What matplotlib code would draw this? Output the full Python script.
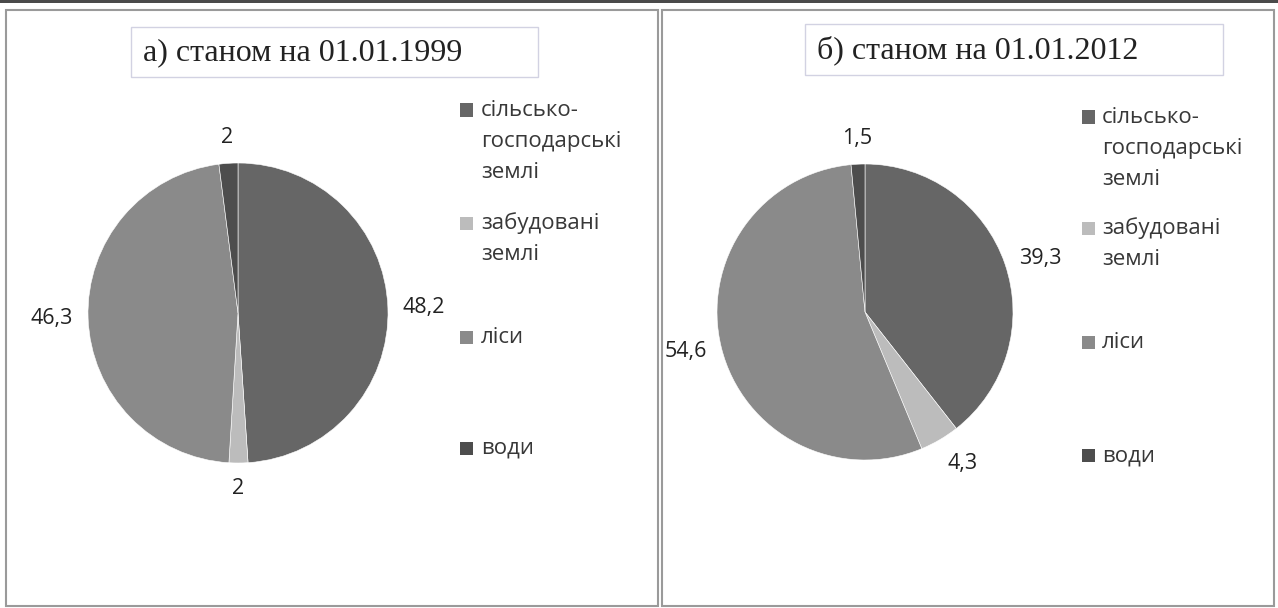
import numpy as np
import matplotlib.pyplot as plt
from matplotlib.patches import Rectangle

# data
categories = ["сільсько-\nгосподарські\nземлі", "забудовані\nземлі", "ліси", "води"]
values_1999 = [48.2, 2, 46.3, 2]
values_2012 = [39.3, 4.3, 54.6, 1.5]
titles = ["а) станом на 01.01.1999", "б) станом на 01.01.2012"]
colors = ['#666666', '#bcbcbc', '#8a8a8a', '#4d4d4d']

W, H = 1278, 608
fig = plt.figure(figsize=(W / 100, H / 100), dpi=100)
fig.patch.set_facecolor('white')

def fx(x):
    return x / W

def fy(y):
    return 1 - y / H

sans = ['Open Sans', 'DejaVu Sans']
serif = ['Liberation Serif', 'DejaVu Serif']

def fmt(v):
    return ('%g' % v).replace('.', ',')

# panel frames
fig.add_artist(Rectangle((0, fy(2.5)), 1, 2.5 / H, transform=fig.transFigure,
                         facecolor='#4a4a4a', edgecolor='none'))
for x0, x1 in [(6, 658), (662, 1274)]:
    fig.add_artist(Rectangle((fx(x0), fy(606)), fx(x1) - fx(x0), fy(10) - fy(606),
                             transform=fig.transFigure, facecolor='none',
                             edgecolor='#9a9a9a', lw=1.5))

panels = [
    dict(vals=values_1999, title=titles[0], cx=238, cy=313, r=150,
         box=(131, 27, 538, 77), tx=143, sq=460, txt=481, ly=[110, 223, 337, 448]),
    dict(vals=values_2012, title=titles[1], cx=865, cy=312, r=148,
         box=(805, 24, 1223, 75), tx=817, sq=1082, txt=1102, ly=[117, 228, 342, 455]),
]

for p in panels:
    cx, cy, r = p['cx'], p['cy'], p['r']
    ax = fig.add_axes([fx(cx - r), fy(cy + r), 2 * r / W, 2 * r / H])
    wedges, _ = ax.pie(p['vals'], colors=colors, startangle=90, counterclock=False,
                       wedgeprops=dict(edgecolor='white', linewidth=0.4))
    ax.set_xlim(-1, 1)
    ax.set_ylim(-1, 1)

    # value labels outside the pie
    for w, v in zip(wedges, p['vals']):
        ang = np.deg2rad((w.theta1 + w.theta2) / 2)
        c, s = np.cos(ang), np.sin(ang)
        ha = 'left' if c > 0.45 else ('right' if c < -0.45 else 'center')
        va = 'bottom' if s > 0.5 else ('top' if s < -0.5 else 'center')
        ax.text(1.1 * c, 1.1 * s, fmt(v), ha=ha, va=va, fontsize=15.5,
                family=sans, color='#222222')

    # title in a box
    bx0, by0, bx1, by1 = p['box']
    fig.add_artist(Rectangle((fx(bx0), fy(by1)), fx(bx1) - fx(bx0), fy(by0) - fy(by1),
                             transform=fig.transFigure, facecolor='white',
                             edgecolor='#d2d2e2', lw=1))
    fig.text(fx(p['tx']), fy((by0 + by1) / 2 + 1), p['title'], ha='left', va='center',
             fontsize=23, family=serif, color='#222222')

    # legend
    for lab, col, y0 in zip(categories, colors, p['ly']):
        fig.add_artist(Rectangle((fx(p['sq']), fy(y0 + 6.5)), 13 / W, 13 / H,
                                 transform=fig.transFigure, facecolor=col, edgecolor='none'))
        for k, line in enumerate(lab.split('\n')):
            fig.text(fx(p['txt']), fy(y0 + 31 * k + 6), line, ha='left', va='baseline',
                     fontsize=16, family=sans, color='#383838')

fig.savefig('out.png', dpi=100)
